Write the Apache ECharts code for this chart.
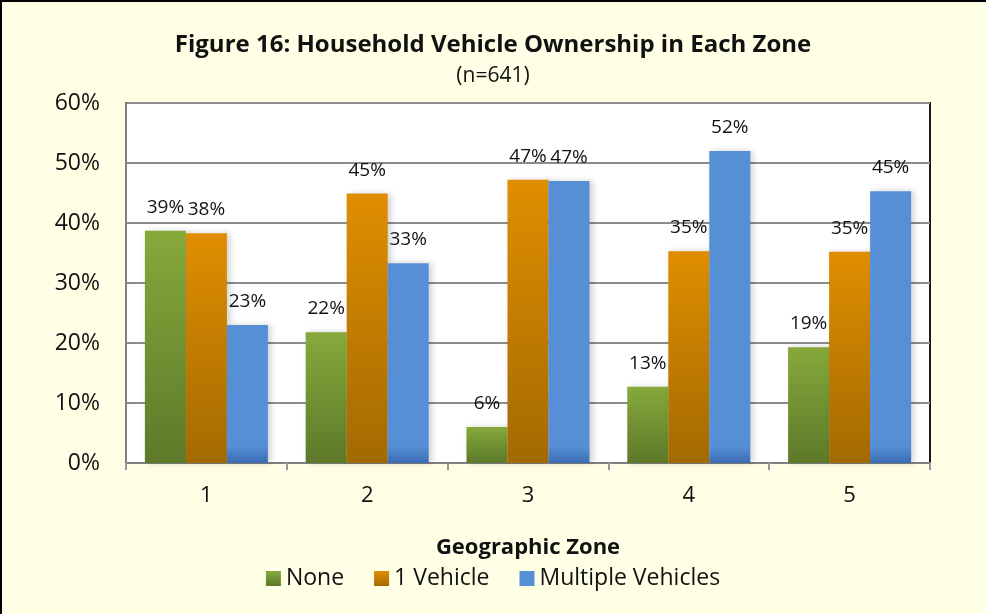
<!DOCTYPE html>
<html>
<head>
<meta charset="utf-8">
<style>
  html, body { margin: 0; padding: 0; background: #FFFFE6; }
  #chart { width: 986px; height: 614px; }
</style>
</head>
<body>
<div id="chart"></div>
<script src="https://cdn.jsdelivr.net/npm/echarts@6/dist/echarts.min.js"></script>
<script>
var zones = ['1', '2', '3', '4', '5'];
var noneVals = [0.387, 0.218, 0.060, 0.127, 0.193];
var oneVals = [0.383, 0.449, 0.472, 0.353, 0.352];
var multiVals = [0.230, 0.333, 0.470, 0.520, 0.453];
var yTicks = [0, 0.1, 0.2, 0.3, 0.4, 0.5, 0.6];

var FONT = 'Open Sans';

function vgrad(top, bottom) {
  return new echarts.graphic.LinearGradient(0, 0, 0, 1, [
    { offset: 0, color: top },
    { offset: 1, color: bottom }
  ]);
}

// blue bars only darken in a thin strip at the base
var blueFill = {
  type: 'linear', x: 0, y: 446, x2: 0, y2: 463, global: true,
  colorStops: [{ offset: 0, color: '#568FD6' }, { offset: 1, color: '#3A6CB2' }]
};

var labelOpt = {
  show: true,
  position: 'top',
  distance: 14,
  fontFamily: FONT,
  fontSize: 19,
  color: '#111',
  formatter: function (p) { return Math.round(p.value * 100) + '%'; }
};

var shadow = { shadowBlur: 6, shadowColor: 'rgba(0,0,0,0.18)', shadowOffsetX: 3 };

var myChart = echarts.init(document.getElementById('chart'));

var option = {
  backgroundColor: '#FFFFE6',
  animation: false,
  textStyle: { fontFamily: FONT },
  title: {
    text: 'Figure 16: Household Vehicle Ownership in Each Zone',
    subtext: '(n=641)',
    left: 'center',
    top: 28,
    itemGap: 9,
    textStyle: { fontFamily: FONT, fontWeight: 'bold', fontSize: 24, color: '#111' },
    subtextStyle: { fontFamily: FONT, fontSize: 21, color: '#111' }
  },
  graphic: [{
    type: 'rect',
    shape: { x: 1, y: 1, width: 2000, height: 2000 },
    style: { fill: 'none', stroke: '#000', lineWidth: 2 },
    silent: true
  }],
  grid: {
    left: 126, right: 56, top: 103, bottom: 151,
    show: true,
    backgroundColor: '#fff',
    borderColor: '#1a1a1a',
    borderWidth: 2
  },
  legend: {
    data: ['None', '1 Vehicle', 'Multiple Vehicles'],
    left: 'center',
    top: 562,
    itemWidth: 15,
    itemHeight: 15,
    itemGap: 30,
    icon: 'rect',
    textStyle: { fontFamily: FONT, fontSize: 23, color: '#111' }
  },
  xAxis: {
    type: 'category',
    data: zones,
    name: 'Geographic Zone',
    nameLocation: 'middle',
    nameGap: 74,
    nameTextStyle: { fontFamily: FONT, fontWeight: 'bold', fontSize: 22, color: '#111' },
    axisLine: { lineStyle: { color: '#808080', width: 2 } },
    axisTick: { show: true, inside: false, length: 7, lineStyle: { color: '#999', width: 2 } },
    axisLabel: { fontFamily: FONT, fontSize: 22, color: '#111', margin: 22 }
  },
  yAxis: {
    type: 'value',
    min: yTicks[0],
    max: yTicks[yTicks.length - 1],
    interval: 0.1,
    axisLine: { show: true, lineStyle: { color: '#808080', width: 2 } },
    axisTick: { show: false },
    axisLabel: {
      fontFamily: FONT, fontSize: 23, color: '#111', margin: 26,
      formatter: function (v) { return Math.round(v * 100) + '%'; }
    },
    splitLine: { lineStyle: { color: '#8c8c8c', width: 2 } }
  },
  series: [
    {
      name: 'None', type: 'bar', data: noneVals,
      barGap: '0%', barCategoryGap: '23.5%',
      itemStyle: Object.assign({ color: vgrad('#86A93B', '#5D792A') }, shadow),
      label: labelOpt
    },
    {
      name: '1 Vehicle', type: 'bar', data: oneVals,
      itemStyle: Object.assign({ color: vgrad('#E08E00', '#A36A02') }, shadow),
      label: labelOpt
    },
    {
      name: 'Multiple Vehicles', type: 'bar', data: multiVals,
      itemStyle: Object.assign({ color: blueFill }, shadow),
      label: labelOpt
    }
  ]
};

myChart.setOption(option);
</script>
</body>
</html>
